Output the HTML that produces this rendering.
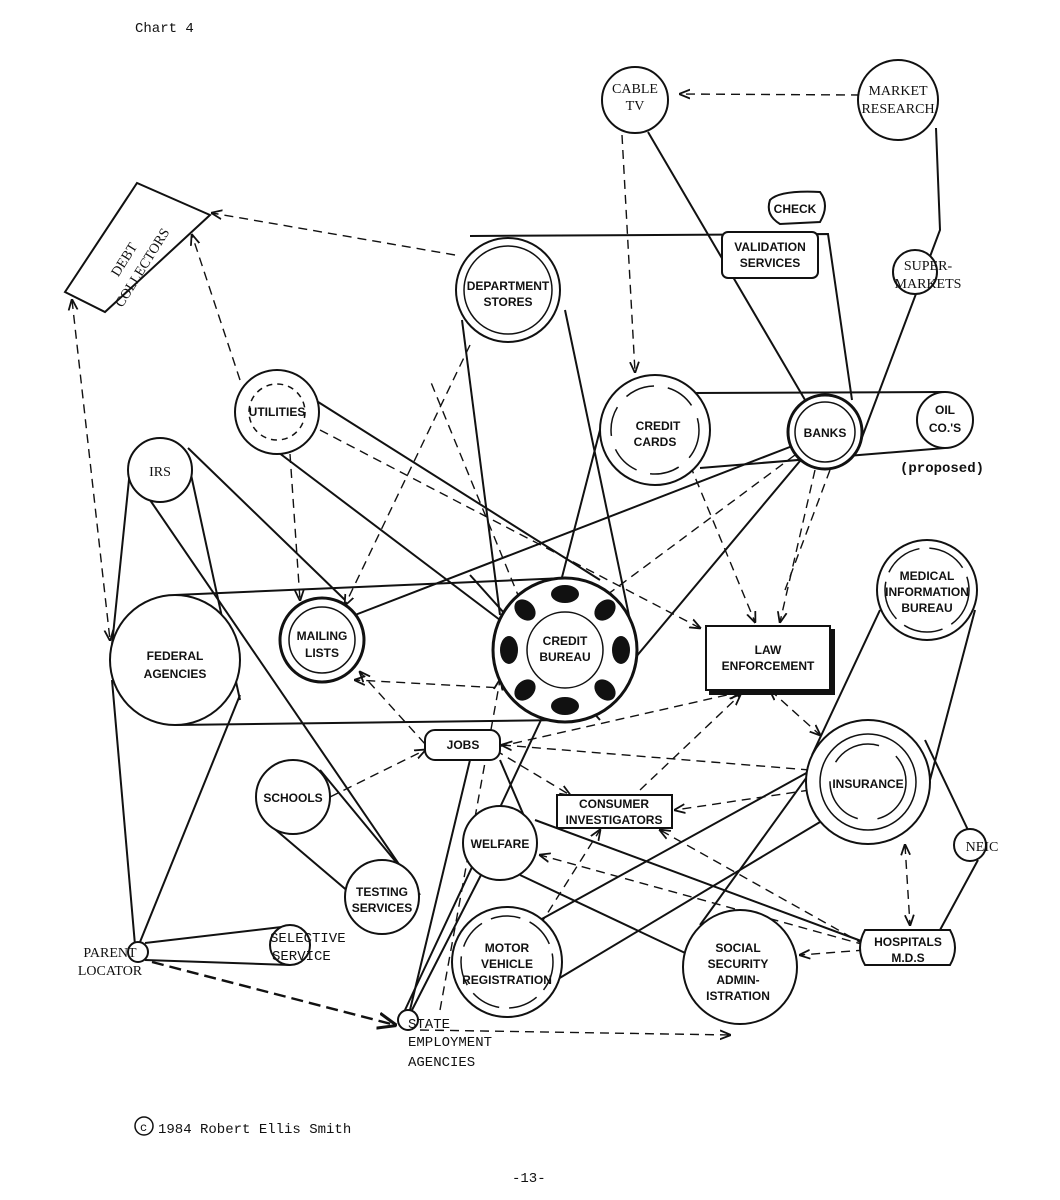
<!DOCTYPE html>
<html><head><meta charset="utf-8"><style>
html,body{margin:0;padding:0;background:#fff}
svg{display:block}
text{font-family:"Liberation Mono",monospace;fill:#111}
.l{font-family:"Liberation Sans",sans-serif;font-size:12px;font-weight:bold;text-anchor:middle}
.s{font-family:"Liberation Serif",serif;font-size:14px;text-anchor:middle}
</style></head><body>
<svg width="1060" height="1200" viewBox="0 0 1060 1200" xmlns="http://www.w3.org/2000/svg">
<defs>
<marker id="a" viewBox="0 0 10 10" refX="9" refY="5" markerWidth="8" markerHeight="8" orient="auto-start-reverse"><path d="M0,1 L10,5 L0,9" fill="none" stroke="#111" stroke-width="1.6"/></marker>
</defs>
<rect width="1060" height="1200" fill="#fff"/>
<text x="135" y="32" font-size="14">Chart 4</text>

<g stroke="#111" stroke-width="2" fill="none">
<!-- solid belts -->
<line x1="648" y1="132" x2="808" y2="405"/>
<path d="M936,128 L940,230 L858,448"/>
<path d="M470,236 L828,234 L852,400"/>
<line x1="462" y1="320" x2="500" y2="615"/>
<line x1="565" y1="310" x2="632" y2="630"/>
<line x1="690" y1="393" x2="945" y2="392"/>
<line x1="700" y1="468" x2="945" y2="448"/>
<line x1="795" y1="445" x2="355" y2="615"/>
<line x1="805" y1="455" x2="625" y2="670"/>
<line x1="315" y1="400" x2="600" y2="580"/>
<line x1="262" y1="440" x2="500" y2="620"/>
<line x1="188" y1="448" x2="345" y2="600"/>
<line x1="150" y1="500" x2="420" y2="895"/>
<line x1="130" y1="470" x2="112" y2="645"/>
<line x1="190" y1="470" x2="240" y2="700"/>
<line x1="175" y1="595" x2="565" y2="578"/>
<line x1="175" y1="725" x2="565" y2="720"/>
<line x1="140" y1="942" x2="240" y2="695"/>
<line x1="135" y1="945" x2="112" y2="680"/>
<line x1="145" y1="943" x2="290" y2="926"/>
<line x1="145" y1="960" x2="290" y2="965"/>
<line x1="270" y1="825" x2="350" y2="893"/>
<line x1="320" y1="770" x2="415" y2="885"/>
<line x1="410" y1="1010" x2="470" y2="760"/>
<line x1="412" y1="1010" x2="482" y2="873"/>
<line x1="405" y1="1010" x2="548" y2="705"/>
<line x1="520" y1="875" x2="700" y2="960"/>
<line x1="500" y1="760" x2="530" y2="830"/>
<line x1="535" y1="820" x2="872" y2="945"/>
<line x1="540" y1="920" x2="830" y2="760"/>
<line x1="548" y1="985" x2="820" y2="822"/>
<line x1="700" y1="925" x2="830" y2="745"/>
<line x1="880" y1="610" x2="812" y2="755"/>
<line x1="975" y1="610" x2="930" y2="780"/>
<path d="M925,740 L968,830"/>
<path d="M978,860 L940,930"/>
<line x1="560" y1="585" x2="600" y2="430"/>
<line x1="600" y1="720" x2="470" y2="575"/>
</g>

<g stroke="#111" stroke-width="1.4" fill="none" stroke-dasharray="9,6">
<line x1="860" y1="95" x2="680" y2="94" marker-end="url(#a)"/>
<line x1="622" y1="135" x2="635" y2="372" marker-end="url(#a)"/>
<line x1="455" y1="255" x2="212" y2="213" marker-end="url(#a)"/>
<line x1="240" y1="380" x2="192" y2="235" marker-end="url(#a)"/>
<line x1="72" y1="300" x2="110" y2="640" marker-start="url(#a)" marker-end="url(#a)"/>
<line x1="470" y1="345" x2="345" y2="605" marker-end="url(#a)"/>
<line x1="290" y1="454" x2="300" y2="600" marker-end="url(#a)"/>
<line x1="320" y1="430" x2="700" y2="628" marker-end="url(#a)"/>
<line x1="690" y1="465" x2="755" y2="622" marker-end="url(#a)"/>
<line x1="815" y1="470" x2="780" y2="622" marker-end="url(#a)"/>
<line x1="830" y1="470" x2="785" y2="590"/>
<line x1="435" y1="755" x2="360" y2="672" marker-end="url(#a)"/>
<line x1="540" y1="690" x2="355" y2="680" marker-end="url(#a)"/>
<line x1="330" y1="797" x2="425" y2="750" marker-end="url(#a)"/>
<line x1="810" y1="770" x2="502" y2="745" marker-end="url(#a)"/>
<line x1="495" y1="750" x2="570" y2="795" marker-end="url(#a)"/>
<line x1="440" y1="760" x2="740" y2="692" marker-end="url(#a)"/>
<line x1="770" y1="690" x2="820" y2="735" marker-start="url(#a)" marker-end="url(#a)"/>
<line x1="640" y1="790" x2="740" y2="695" marker-end="url(#a)"/>
<line x1="810" y1="790" x2="675" y2="810" marker-end="url(#a)"/>
<line x1="865" y1="945" x2="540" y2="855" marker-end="url(#a)"/>
<line x1="865" y1="945" x2="660" y2="830" marker-end="url(#a)"/>
<line x1="905" y1="845" x2="910" y2="925" marker-start="url(#a)" marker-end="url(#a)"/>
<line x1="865" y1="950" x2="800" y2="955" marker-end="url(#a)"/>
<line x1="540" y1="925" x2="600" y2="830" marker-end="url(#a)"/>
<line x1="420" y1="1030" x2="730" y2="1035" marker-end="url(#a)"/>
<line x1="440" y1="1010" x2="500" y2="680" marker-end="url(#a)"/>
<line x1="520" y1="600" x2="430" y2="380"/>
<line x1="795" y1="455" x2="600" y2="600"/>
</g>
<line x1="152" y1="962" x2="395" y2="1025" stroke="#111" stroke-width="2.4" stroke-dasharray="12,6" marker-end="url(#a)"/>

<g stroke="#111" stroke-width="2" fill="#fff">
<circle cx="635" cy="100" r="33"/>
<circle cx="898" cy="100" r="40"/>
<path d="M770,200 Q780,190 820,192 Q830,205 820,222 L780,224 Q765,215 770,200Z"/>
<rect x="722" y="232" width="96" height="46" rx="6"/>
<circle cx="915" cy="272" r="22"/>
<polygon points="65,292 137,183 210,215 105,312"/>
<circle cx="508" cy="290" r="52"/>
<circle cx="277" cy="412" r="42"/>
<circle cx="655" cy="430" r="55"/>
<circle cx="825" cy="432" r="37" stroke-width="3"/>
<circle cx="945" cy="420" r="28"/>
<circle cx="160" cy="470" r="32"/>
<circle cx="175" cy="660" r="65"/>
<circle cx="322" cy="640" r="42" stroke-width="3"/>
<circle cx="565" cy="650" r="72" stroke-width="3"/>
<rect x="710" y="630" width="124" height="64" fill="#111"/>
<rect x="706" y="626" width="124" height="64"/>
<circle cx="927" cy="590" r="50"/>
<rect x="425" y="730" width="75" height="30" rx="10"/>
<circle cx="293" cy="797" r="37"/>
<rect x="557" y="795" width="115" height="33"/>
<circle cx="868" cy="782" r="62"/>
<circle cx="970" cy="845" r="16"/>
<circle cx="500" cy="843" r="37"/>
<circle cx="382" cy="897" r="37"/>
<circle cx="138" cy="952" r="10"/>
<circle cx="290" cy="945" r="20"/>
<circle cx="507" cy="962" r="55"/>
<circle cx="740" cy="967" r="57"/>
<path d="M865,930 L950,930 Q960,948 950,965 L865,965 Q855,948 865,930Z"/>
<circle cx="408" cy="1020" r="10"/>
</g>
<g fill="none" stroke="#111" stroke-width="1.5">
<circle cx="508" cy="290" r="44"/>
<circle cx="277" cy="412" r="28" stroke-dasharray="6,5"/>
<circle cx="655" cy="430" r="44" stroke-dasharray="30,14"/>
<circle cx="825" cy="432" r="30"/>
<circle cx="322" cy="640" r="33"/>
<circle cx="927" cy="590" r="42" stroke-dasharray="40,10"/>
<circle cx="868" cy="782" r="48"/>
<circle cx="868" cy="782" r="38" stroke-dasharray="50,20"/>
<circle cx="507" cy="962" r="46" stroke-dasharray="30,10"/>
<circle cx="565" cy="650" r="38"/>
</g>
<g fill="#111">
<ellipse cx="565" cy="594" rx="14" ry="9"/>
<ellipse cx="565" cy="706" rx="14" ry="9"/>
<ellipse cx="509" cy="650" rx="9" ry="14"/>
<ellipse cx="621" cy="650" rx="9" ry="14"/>
<ellipse cx="525" cy="610" rx="12" ry="9" transform="rotate(45 525 610)"/>
<ellipse cx="605" cy="610" rx="12" ry="9" transform="rotate(-45 605 610)"/>
<ellipse cx="525" cy="690" rx="12" ry="9" transform="rotate(-45 525 690)"/>
<ellipse cx="605" cy="690" rx="12" ry="9" transform="rotate(45 605 690)"/>
</g>

<g>
<text class="s" x="635" y="93">CABLE</text><text class="s" x="635" y="110">TV</text>
<text class="s" x="898" y="95">MARKET</text><text class="s" x="898" y="113">RESEARCH</text>
<text class="l" x="795" y="213">CHECK</text>
<text class="l" x="770" y="251">VALIDATION</text><text class="l" x="770" y="267">SERVICES</text>
<text class="s" x="928" y="270">SUPER-</text><text class="s" x="928" y="288">MARKETS</text>
<text class="s" transform="translate(128,262) rotate(-58)">DEBT</text>
<text class="s" transform="translate(146,270) rotate(-58)">COLLECTORS</text>
<text class="l" x="508" y="290">DEPARTMENT</text><text class="l" x="508" y="306">STORES</text>
<text class="l" x="277" y="416" font-size="10">UTILITIES</text>
<text class="l" x="658" y="430">CREDIT</text><text class="l" x="655" y="446">CARDS</text>
<text class="l" x="825" y="437">BANKS</text>
<text class="l" x="945" y="414" font-size="14" font-family="Liberation Mono">OIL</text><text class="l" x="945" y="432" font-size="14" font-family="Liberation Mono">CO.'S</text>
<text x="900" y="472" font-size="14" font-weight="bold">(proposed)</text>
<text class="s" x="160" y="476">IRS</text>
<text class="l" x="175" y="660">FEDERAL</text><text class="l" x="175" y="678">AGENCIES</text>
<text class="l" x="322" y="640">MAILING</text><text class="l" x="322" y="657">LISTS</text>
<text class="l" x="565" y="645">CREDIT</text><text class="l" x="565" y="661">BUREAU</text>
<text class="l" x="768" y="654">LAW</text><text class="l" x="768" y="670">ENFORCEMENT</text>
<text class="l" x="927" y="580">MEDICAL</text><text class="l" x="927" y="596">INFORMATION</text><text class="l" x="927" y="612">BUREAU</text>
<text class="l" x="463" y="749">JOBS</text>
<text class="l" x="293" y="802">SCHOOLS</text>
<text class="l" x="614" y="808">CONSUMER</text><text class="l" x="614" y="824">INVESTIGATORS</text>
<text class="l" x="868" y="788">INSURANCE</text>
<text class="s" x="982" y="851">NEIC</text>
<text class="l" x="500" y="848">WELFARE</text>
<text class="l" x="382" y="896">TESTING</text><text class="l" x="382" y="912">SERVICES</text>
<text class="s" x="110" y="957">PARENT</text><text class="s" x="110" y="975">LOCATOR</text>
<text x="270" y="942" font-size="14" font-family="Liberation Serif">SELECTIVE</text><text x="272" y="960" font-size="14" font-family="Liberation Serif">SERVICE</text>
<text class="l" x="507" y="952">MOTOR</text><text class="l" x="507" y="968">VEHICLE</text><text class="l" x="507" y="984">REGISTRATION</text>
<text class="l" x="738" y="952">SOCIAL</text><text class="l" x="738" y="968">SECURITY</text><text class="l" x="738" y="984">ADMIN-</text><text class="l" x="738" y="1000">ISTRATION</text>
<text class="l" x="908" y="946">HOSPITALS</text><text class="l" x="908" y="962">M.D.S</text>
<text x="408" y="1028" font-size="14" font-family="Liberation Serif">STATE</text>
<text x="408" y="1046" font-size="14" font-family="Liberation Serif">EMPLOYMENT</text>
<text x="408" y="1066" font-size="14" font-family="Liberation Serif">AGENCIES</text>
<circle cx="144" cy="1126" r="9" fill="none" stroke="#111" stroke-width="1.5"/>
<text x="140" y="1131" font-size="12">c</text>
<text x="158" y="1133" font-size="14">1984 Robert Ellis Smith</text>
<text x="512" y="1182" font-size="14">-13-</text>
</g>
</svg>
</body></html>
